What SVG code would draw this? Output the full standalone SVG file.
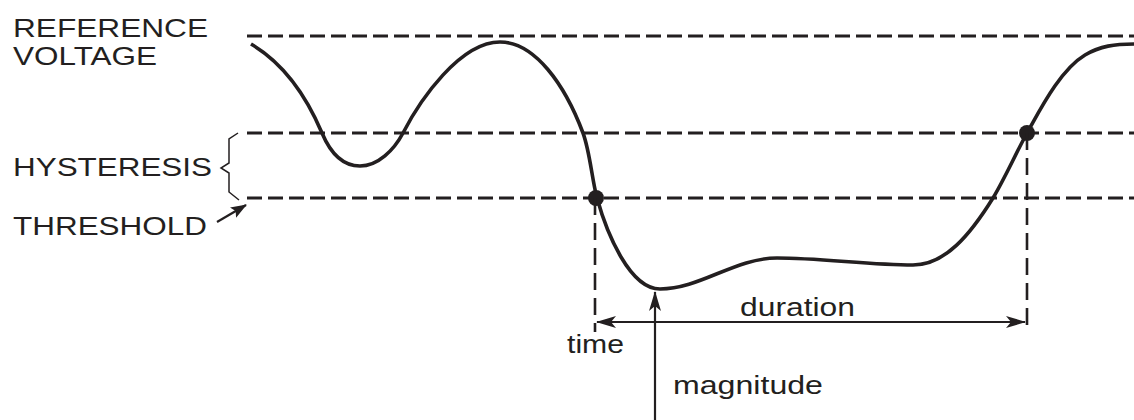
<svg xmlns="http://www.w3.org/2000/svg" width="1134" height="420" viewBox="0 0 1134 420">
<style>
.lbl{font-family:"Liberation Sans",Arial,sans-serif;font-size:25.5px;fill:#231f20}
.dash{stroke:#231f20;stroke-width:3.2;stroke-dasharray:15 6;fill:none}
.vdash{stroke:#231f20;stroke-width:2.6;stroke-dasharray:17 8;fill:none}
.arr{stroke:#231f20;stroke-width:2.2;fill:none}
</style>
<defs>
<marker id="ah" viewBox="0 0 20 12" refX="19" refY="6" markerWidth="20" markerHeight="12" markerUnits="userSpaceOnUse" orient="auto-start-reverse">
<path d="M0,0 L20,6 L0,12 L5,6 Z" fill="#231f20"/>
</marker>
<marker id="ahs" viewBox="0 0 16 12" refX="15" refY="6" markerWidth="16" markerHeight="12" markerUnits="userSpaceOnUse" orient="auto">
<path d="M0,0 L16,6 L0,12 L3,6 Z" fill="#231f20"/>
</marker>
</defs>
<rect width="1134" height="420" fill="#fff"/>
<g id="levels">
<line class="dash" x1="247" y1="36" x2="1134" y2="36"/>
<line class="dash" x1="247" y1="133" x2="1134" y2="133"/>
<line class="dash" x1="247" y1="198" x2="1134" y2="198"/>
</g>
<g id="waveform">
<path d="M251,44 C285,64 308,100 322,133 C330,152 342,166 360,166 C378,166 394,150 403,133 C420,100 460,42 500,42 C535,42 565,85 583,133 C590,152 592,180 597,198 C607,234 630,289 660,289 C700,289 735,258 777,258 C820,258 870,265 913,265 C945,265 970,235 993,198 C1005,178 1015,155 1027,133 C1040,110 1060,70 1085,55 C1100,46 1115,44 1134,44" fill="none" stroke="#231f20" stroke-width="3.6"/>
<circle cx="596" cy="198" r="8" fill="#231f20"/>
<circle cx="1027" cy="133" r="8" fill="#231f20"/>
</g>
<g id="connectors">
<line class="vdash" x1="595" y1="198" x2="595" y2="332"/>
<line class="vdash" x1="1027" y1="133" x2="1027" y2="330"/>
<line class="arr" x1="597" y1="322" x2="1025" y2="322" marker-start="url(#ah)" marker-end="url(#ah)"/>
<line class="arr" x1="655" y1="420" x2="655" y2="292" marker-end="url(#ah)"/>
<line class="arr" x1="217" y1="222" x2="246" y2="205" stroke-width="2" marker-end="url(#ahs)"/>
<path d="M238,133 L229,139 L229,163 L221,168 L229,173 L229,192 L239,200" fill="none" stroke="#231f20" stroke-width="1.5"/>
</g>
<g id="labels">
<text class="lbl" x="13" y="37" textLength="195" lengthAdjust="spacingAndGlyphs">REFERENCE</text>
<text class="lbl" x="13" y="65" textLength="144" lengthAdjust="spacingAndGlyphs">VOLTAGE</text>
<text class="lbl" x="13" y="176" textLength="199" lengthAdjust="spacingAndGlyphs">HYSTERESIS</text>
<text class="lbl" x="13" y="235" textLength="194" lengthAdjust="spacingAndGlyphs">THRESHOLD</text>
<text class="lbl" x="740" y="316" textLength="115" lengthAdjust="spacingAndGlyphs">duration</text>
<text class="lbl" x="567" y="353" textLength="57" lengthAdjust="spacingAndGlyphs">time</text>
<text class="lbl" x="673" y="394" textLength="150" lengthAdjust="spacingAndGlyphs">magnitude</text>
</g>
</svg>
